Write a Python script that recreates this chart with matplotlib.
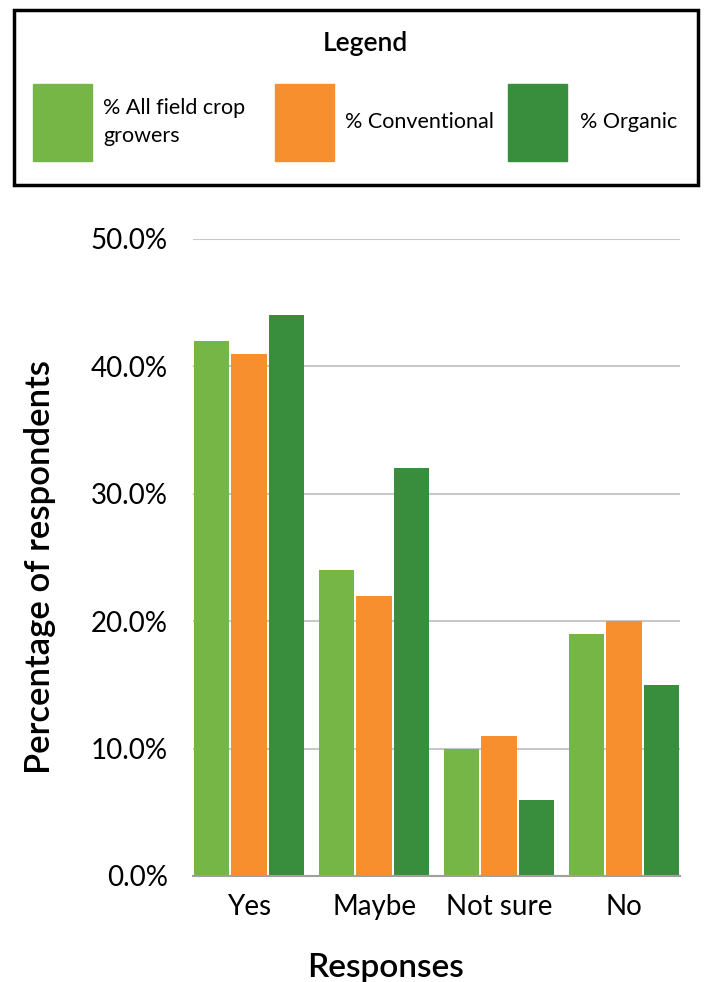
import matplotlib.pyplot as plt
from matplotlib.patches import Rectangle
import numpy as np

categories = ['Yes', 'Maybe', 'Not sure', 'No']
all_growers = [42, 24, 10, 19]
conventional = [41, 22, 11, 20]
organic = [44, 32, 6, 15]
series_labels = ['% All field crop\ngrowers', '% Conventional', '% Organic']
colors = ['#76b646', '#f78f2e', '#388e3c']
yticks = [0, 10, 20, 30, 40, 50]

plt.rcParams['font.family'] = ['Lato', 'DejaVu Sans']

fig = plt.figure(figsize=(7.05, 9.82), dpi=100)
W, H = 705, 982
ax = fig.add_axes([193 / W, 1 - 876 / H, 487 / W, (876 - 239) / H])

x = np.arange(len(categories))
w = 0.3
bars = []
for i, vals in enumerate([all_growers, conventional, organic]):
    b = ax.bar(x + (i - 1) * w, vals, width=w - 0.016, color=colors[i], zorder=3)
    bars.append(b)

ax.set_xlim(-0.45, 3.45)
ax.set_ylim(0, 50)
ax.set_yticks(yticks)
ax.set_yticklabels(['%.1f%%' % t for t in yticks], fontsize=20)
ax.set_xticks(x)
ax.set_xticklabels(categories, fontsize=20)
ax.tick_params(length=0, pad=18)
ax.tick_params(axis='x', pad=13)
ax.yaxis.grid(True, color='#c8c8c8', linewidth=1.5, zorder=0)
for s in ['top', 'right', 'left']:
    ax.spines[s].set_visible(False)
ax.spines['bottom'].set_color('#a0a0a0')
ax.spines['bottom'].set_linewidth(1.5)
ax.spines['bottom'].set_zorder(4)

ax.set_xlabel('Responses', fontsize=24, fontweight='semibold')
ax.xaxis.set_label_coords((386 - 193) / 487, -(968 - 876) / 637)
ax.set_ylabel('Percentage of respondents', fontsize=25, fontweight='semibold')
ax.yaxis.set_label_coords(-(193 - 40) / 487, (876 - 567) / 637)
ax.yaxis.label.set_va('center')
ax.xaxis.label.set_va('center')

# legend box drawn in figure coordinates
fig.patches.append(Rectangle((14 / W, 1 - 185 / H), 684 / W, 175 / H, transform=fig.transFigure,
                             fill=False, edgecolor='black', linewidth=2.5))
fig.text(365 / W, 1 - 44 / H, 'Legend', ha='center', va='center', fontsize=19, fontweight='semibold')
patch_x = [33, 275, 508]
text_x = [103, 345, 580]
for i in range(3):
    fig.patches.append(Rectangle((patch_x[i] / W, 1 - 161 / H), 59 / W, 77 / H,
                                 transform=fig.transFigure, color=colors[i]))
    fig.text(text_x[i] / W, 1 - 122 / H, series_labels[i], ha='left', va='center',
             fontsize=15.5, linespacing=1.5)

fig.savefig('out.png', dpi=100)
